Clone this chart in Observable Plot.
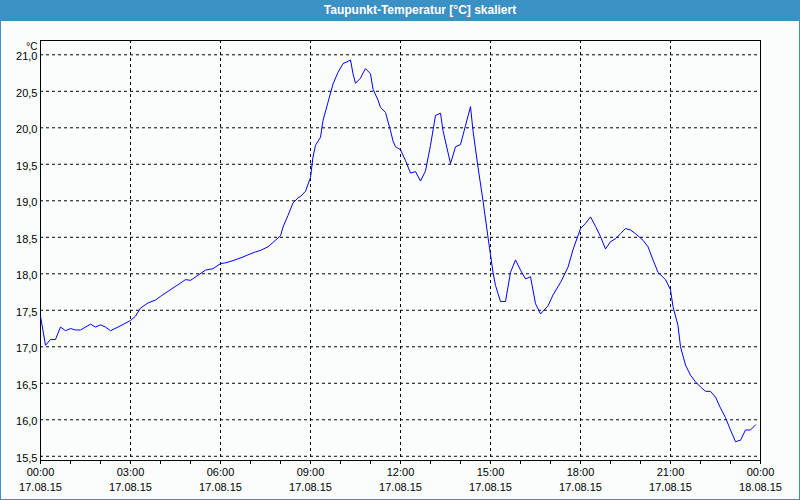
<!DOCTYPE html>
<html>
<head>
<meta charset="utf-8">
<script src="https://cdn.jsdelivr.net/npm/d3@7"></script>
<script src="https://cdn.jsdelivr.net/npm/@observablehq/plot@0.6"></script>
<style>
  html, body { margin: 0; padding: 0; background: #fbfdfc; }
  #wrap { position: relative; width: 800px; height: 500px; background: #fbfdfc; overflow: hidden; }
  #title { position: absolute; left: 0; top: 0; width: 800px; height: 21px; background: #3b90c4;
           color: #fff; font: bold 12px "Liberation Sans", sans-serif; line-height: 21px;
           text-align: center; box-sizing: border-box; padding-left: 40px; }
  #chart { position: absolute; left: 0; top: 21px; }
  #border { position: absolute; left: 0; top: 0; width: 800px; height: 500px; box-sizing: border-box;
            border: 1px solid #3b90c4; border-top: none; pointer-events: none; }
</style>
</head>
<body>
<div id="wrap">
  <div id="title">Taupunkt-Temperatur [°C] skaliert</div>
  <div id="chart"></div>
  <div id="border"></div>
</div>
<script>
// Time of day in minutes after 00:00 on 17.08.15
const minutes = [0, 10, 20, 30, 40, 50, 60, 70, 80, 100, 110, 120, 130, 140, 155, 180, 190, 200, 215, 230,
  240, 255, 275, 290, 300, 315, 330, 345, 360, 370, 385, 405, 415, 430, 440, 455, 465, 480, 485, 495,
  505, 515, 520, 530, 540, 545, 550, 560, 565, 575, 585, 595, 605, 615, 620, 625, 630, 640, 645, 650,
  660, 665, 675, 680, 690, 700, 705, 710, 720, 730, 740, 750, 760, 770, 780, 790, 800, 805, 820, 830,
  840, 850, 860, 865, 875, 885, 895, 905, 910, 920, 930, 940, 950, 960, 970, 980, 990, 1000, 1015, 1025,
  1040, 1055, 1065, 1080, 1090, 1100, 1110, 1120, 1130, 1140, 1150, 1160, 1170, 1180, 1190, 1205, 1215, 1225, 1235, 1250,
  1260, 1265, 1275, 1280, 1290, 1300, 1310, 1320, 1330, 1340, 1350, 1360, 1370, 1380, 1390, 1400, 1410, 1420, 1430];
// Dew point temperature, °C
const temps = [17.42, 17.02, 17.10, 17.10, 17.27, 17.22, 17.25, 17.23, 17.23, 17.31, 17.27, 17.30, 17.27, 17.22, 17.27, 17.36, 17.42, 17.53, 17.60, 17.64,
  17.69, 17.76, 17.85, 17.92, 17.91, 17.98, 18.05, 18.07, 18.14, 18.15, 18.18, 18.23, 18.26, 18.30, 18.32, 18.37, 18.43, 18.52, 18.64, 18.80,
  18.97, 19.04, 19.06, 19.13, 19.32, 19.60, 19.76, 19.87, 20.10, 20.35, 20.60, 20.76, 20.88, 20.91, 20.93, 20.74, 20.61, 20.68, 20.75, 20.81,
  20.74, 20.53, 20.38, 20.28, 20.21, 19.96, 19.82, 19.74, 19.70, 19.55, 19.38, 19.40, 19.27, 19.41, 19.76, 20.17, 20.20, 19.96, 19.51, 19.74,
  19.77, 20.03, 20.29, 19.96, 19.46, 19.00, 18.50, 18.02, 17.84, 17.62, 17.62, 18.02, 18.19, 18.05, 17.93, 17.96, 17.59, 17.45, 17.56, 17.71,
  17.88, 18.09, 18.33, 18.62, 18.69, 18.78, 18.65, 18.51, 18.34, 18.44, 18.48, 18.55, 18.62, 18.60, 18.55, 18.46, 18.37, 18.19, 18.02, 17.92,
  17.78, 17.55, 17.29, 17.00, 16.75, 16.61, 16.52, 16.45, 16.39, 16.39, 16.31, 16.16, 16.03, 15.86, 15.70, 15.72, 15.86, 15.86, 15.93];

// Axis ticks and labels
const yTicks = [15.5, 16.0, 16.5, 17.0, 17.5, 18.0, 18.5, 19.0, 19.5, 20.0, 20.5, 21.0];
const yLabels = ["15,5", "16,0", "16,5", "17,0", "17,5", "18,0", "18,5", "19,0", "19,5", "20,0", "20,5", "21,0"];
const xLabelHours = [0, 3, 6, 9, 12, 15, 18, 21, 24];
const xTimeLabels = ["00:00", "03:00", "06:00", "09:00", "12:00", "15:00", "18:00", "21:00", "00:00"];
const xDateLabels = ["17.08.15", "17.08.15", "17.08.15", "17.08.15", "17.08.15", "17.08.15", "17.08.15", "17.08.15", "18.08.15"];
const xGridHours = [3, 6, 9, 12, 15, 18, 21];
const hourTicks = [0, 1, 2, 3, 4, 5, 6, 7, 8, 9, 10, 11, 12, 13, 14, 15, 16, 17, 18, 19, 20, 21, 22, 23, 24];
const unitLabel = "°C";

const data = minutes.map((m, i) => ({h: m / 60, t: temps[i]}));

const chart = Plot.plot({
  width: 800,
  height: 479,
  marginLeft: 40,
  marginRight: 40,
  marginTop: 19,
  marginBottom: 40,
  x: {domain: [0, 24], axis: null},
  y: {domain: [15.442, 21.196], axis: null},
  style: {fontFamily: "Liberation Sans", fontSize: "11px", background: "transparent", color: "black", overflow: "visible"},
  marks: [
    Plot.ruleY(yTicks, {y: d => d, stroke: "black", strokeDasharray: "3,3", strokeWidth: 1}),
    Plot.ruleX(xGridHours, {x: d => d, stroke: "black", strokeDasharray: "3,3", strokeWidth: 1}),
    Plot.frame({stroke: "black", strokeWidth: 1}),
    Plot.axisX({ticks: hourTicks, tickSize: 4, tickFormat: () => "", label: null, stroke: "black"}),
    Plot.line(data, {x: "h", y: "t", stroke: "#0000ff", strokeWidth: 1}),
    Plot.text(xLabelHours, {x: d => d, text: (d, i) => xTimeLabels[i], frameAnchor: "bottom", dy: 15, fill: "black"}),
    Plot.text(xLabelHours, {x: d => d, text: (d, i) => xDateLabels[i], frameAnchor: "bottom", dy: 30, fill: "black"}),
    Plot.text(yTicks, {y: d => d, text: (d, i) => yLabels[i], frameAnchor: "left", textAnchor: "end", dx: -3, dy: 2, fill: "black"}),
    Plot.text([unitLabel], {frameAnchor: "top-left", textAnchor: "end", dx: -3, dy: 2, fontSize: 10, fill: "black"})
  ]
});
document.getElementById("chart").appendChild(chart);
</script>
</body>
</html>
